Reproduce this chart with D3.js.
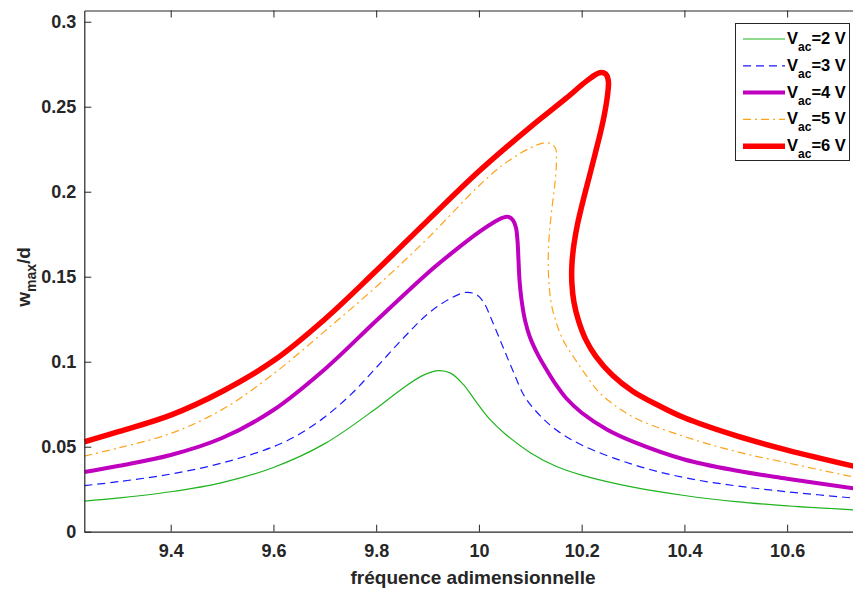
<!DOCTYPE html>
<meta charset="utf-8">
<style>
body { margin: 0; background: #fff; }
svg { display: block; font-family: "Liberation Sans", Arial, sans-serif; }
.tick text { font-size: 18px; font-weight: bold; fill: #262626; }
</style>
<svg width="853" height="589"></svg>
<script src="https://d3js.org/d3.v7.min.js"></script>
<script>

// curves: [frequence, w_max/d]
var vac2 = [[9.232,0.0180],[9.3,0.0199],[9.4,0.0235],[9.5,0.0289],[9.6,0.0378],[9.7,0.0518],
  [9.8,0.0725],[9.85,0.0840],[9.89,0.0918],[9.92,0.0947],[9.945,0.0933],[9.97,0.0865],
  [9.985,0.0805],[10.0,0.0742],[10.02,0.0665],[10.05,0.0578],[10.1,0.0465],[10.15,0.0385],
  [10.2,0.0333],[10.3,0.0262],[10.4,0.0213],[10.5,0.0177],[10.6,0.0152],[10.74,0.0127]];

var vac3 = [[9.232,0.0271],[9.3,0.0295],[9.4,0.0339],[9.5,0.0404],[9.6,0.0500],[9.65,0.0573],
  [9.7,0.0675],[9.75,0.0805],[9.8,0.0965],[9.85,0.1130],[9.9,0.1280],[9.94,0.1365],
  [9.975,0.1408],[9.995,0.1395],[10.01,0.1345],[10.025,0.1245],[10.045,0.1100],[10.065,0.0955],
  [10.09,0.0790],[10.12,0.0680],[10.15,0.0600],[10.2,0.0510],[10.3,0.0395],[10.4,0.0318],
  [10.5,0.0270],[10.6,0.0235],[10.74,0.0195]];

var vac4 = [[9.232,0.0351],[9.3,0.0388],[9.4,0.0451],[9.5,0.0551],[9.6,0.0716],[9.7,0.0956],
  [9.8,0.1241],[9.9,0.1521],[9.95,0.1646],[10.0,0.1762],[10.03,0.1822],[10.047,0.1848],
  [10.058,0.1851],[10.066,0.1833],[10.072,0.1790],[10.075,0.1716],[10.077,0.1600],[10.079,0.1480],
  [10.083,0.1363],[10.09,0.1240],[10.099,0.1147],[10.115,0.1040],[10.132,0.0951],[10.15,0.0865],
  [10.17,0.0785],[10.2,0.0700],[10.25,0.0600],[10.3,0.0530],[10.4,0.0425],[10.5,0.0360],
  [10.6,0.0312],[10.74,0.0250]];

var vac5 = [[9.232,0.0445],[9.3,0.0494],[9.4,0.0578],[9.5,0.0718],[9.6,0.0928],[9.7,0.1180],
  [9.8,0.1441],[9.9,0.1725],[10.0,0.2035],[10.05,0.2165],[10.1,0.2258],[10.125,0.2286],
  [10.14,0.2283],[10.149,0.2255],[10.151,0.2200],[10.148,0.2050],[10.142,0.1900],[10.137,0.1750],
  [10.135,0.1620],[10.136,0.1480],[10.141,0.1340],[10.151,0.1226],[10.165,0.1120],[10.184,0.1029],
  [10.21,0.0915],[10.236,0.0814],[10.3,0.0675],[10.4,0.0560],[10.5,0.0472],[10.6,0.0405],
  [10.74,0.0315]];

var vac6 = [[9.232,0.0529],[9.3,0.0590],[9.4,0.0686],[9.5,0.0825],[9.6,0.1005],[9.7,0.1250],
  [9.8,0.1535],[9.9,0.1830],[10.0,0.2120],[10.1,0.2380],[10.17,0.2550],[10.21,0.2652],
  [10.235,0.2700],[10.247,0.2692],[10.252,0.2650],[10.250,0.2560],[10.244,0.2450],[10.236,0.2340],
  [10.226,0.2220],[10.215,0.2090],[10.203,0.1950],[10.192,0.1810],[10.185,0.1690],[10.181,0.1570],
  [10.181,0.1460],[10.185,0.1350],[10.194,0.1240],[10.208,0.1130],[10.228,0.1030],[10.26,0.0920],
  [10.3,0.0825],[10.35,0.0742],[10.4,0.0670],[10.5,0.0565],[10.6,0.0480],[10.74,0.0378]];

var xTicks = [9.4, 9.6, 9.8, 10, 10.2, 10.4, 10.6];
var yTicks = [0, 0.05, 0.1, 0.15, 0.2, 0.25, 0.3];
var names = ["2", "3", "4", "5", "6"];

var series = [
  {data: vac2, color: "#1fb41f", width: 1.2, dash: null},
  {data: vac3, color: "#1a1aff", width: 1.2, dash: "8,5"},
  {data: vac4, color: "#bf00bf", width: 4, dash: null},
  {data: vac5, color: "#ffa31a", width: 1.2, dash: "8,4,2,4"},
  {data: vac6, color: "#ff0000", width: 5.5, dash: null}
];

var svg = d3.select("svg");

var x = d3.scaleLinear().domain([9.2318, 10.736]).range([84.3, 857]);
var y = d3.scaleLinear().domain([0, 0.3066]).range([531.7, 10.5]);

svg.append("clipPath").attr("id", "clip")
  .append("rect")
    .attr("x", x.range()[0]).attr("y", y.range()[1])
    .attr("width", x.range()[1] - x.range()[0])
    .attr("height", y.range()[0] - y.range()[1]);

var line = d3.line()
    .x(function(d) { return x(d[0]); })
    .y(function(d) { return y(d[1]); })
    .curve(d3.curveCatmullRom.alpha(0.5));

svg.append("g")
    .attr("clip-path", "url(#clip)")
  .selectAll("path")
  .data(series)
  .enter().append("path")
    .attr("fill", "none")
    .attr("stroke", function(d) { return d.color; })
    .attr("stroke-width", function(d) { return d.width; })
    .attr("stroke-dasharray", function(d) { return d.dash; })
    .attr("stroke-linejoin", "round")
    .attr("d", function(d) { return line(d.data); });

// axes, matlab style: ticks pointing inside
var fx = function(d) { return +d.toFixed(1); };
var fy = function(d) { return +d.toFixed(2); };
var styleAxis = function(g) {
  g.select(".domain").attr("stroke", "#262626").attr("stroke-width", 1.2);
  g.selectAll("line").attr("stroke", "#262626");
};

svg.append("g")
    .attr("transform", "translate(0," + y.range()[0] + ")")
    .call(d3.axisBottom(x).tickValues(xTicks).tickFormat(fx).tickSizeInner(-7).tickSizeOuter(0).tickPadding(13))
    .call(styleAxis);

svg.append("g")
    .attr("transform", "translate(0," + y.range()[1] + ")")
    .call(d3.axisTop(x).tickValues(xTicks).tickFormat("").tickSizeInner(-7).tickSizeOuter(0))
    .call(styleAxis);

svg.append("g")
    .attr("transform", "translate(" + x.range()[0] + ",0)")
    .call(d3.axisLeft(y).tickValues(yTicks).tickFormat(fy).tickSizeInner(-7).tickSizeOuter(0).tickPadding(8))
    .call(styleAxis);

// labels
svg.append("text")
    .attr("x", 473)
    .attr("y", 584)
    .attr("text-anchor", "middle")
    .attr("font-size", 19)
    .attr("font-weight", "bold")
    .attr("fill", "#262626")
    .text("fréquence adimensionnelle");

var yl = svg.append("text")
    .attr("transform", "translate(30,277) rotate(-90)")
    .attr("text-anchor", "middle")
    .attr("font-size", 19)
    .attr("font-weight", "bold")
    .attr("fill", "#262626");
yl.append("tspan").text("w");
yl.append("tspan").attr("font-size", 14).attr("dy", 6).text("max");
yl.append("tspan").attr("dy", -6).text("/d");

// legend
var lg = svg.append("g");
lg.append("rect")
    .attr("x", 735.5).attr("y", 23.5)
    .attr("width", 114).attr("height", 137)
    .attr("fill", "#fff")
    .attr("stroke", "#262626");

var rows = lg.selectAll("g.row")
  .data(series)
  .enter().append("g")
    .attr("class", "row")
    .attr("transform", function(d, i) { return "translate(0," + (39 + i * 26.8) + ")"; });

rows.append("line")
    .attr("x1", 743).attr("x2", 785)
    .attr("stroke", function(d) { return d.color; })
    .attr("stroke-width", function(d) { return d.width; })
    .attr("stroke-dasharray", function(d) { return d.dash; });

var lt = rows.append("text")
    .attr("x", 787).attr("y", 5)
    .attr("font-size", 16.5)
    .attr("font-weight", "bold")
    .attr("fill", "#000");
lt.append("tspan").text("V");
lt.append("tspan").attr("font-size", 12).attr("dy", 7).text("ac");
lt.append("tspan").attr("dy", -7).text(function(d, i) { return "=" + names[i] + " V"; });

</script>
